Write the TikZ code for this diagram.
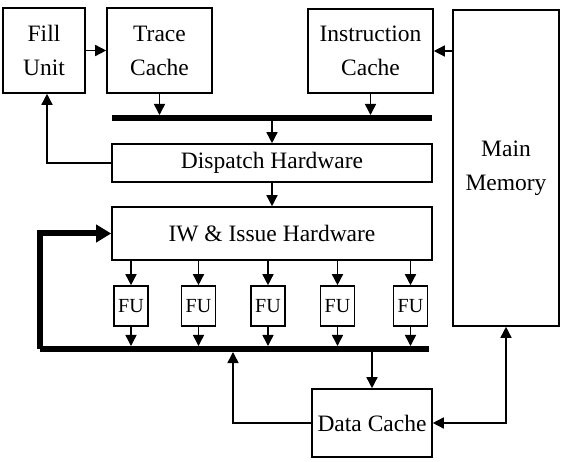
\documentclass[tikz,border=0pt]{standalone}
\usepackage{fontspec}
\setmainfont{Liberation Serif}
\usetikzlibrary{arrows.meta}

\tikzset{
	blk/.style={draw, line width=1.6pt, align=center, inner sep=0pt,
		font=\fontsize{23.5}{34}\selectfont},
	fubox/.style={draw, line width=1.6pt, inner sep=0pt, minimum width=34pt,
		minimum height=40pt, font=\fontsize{20}{20}\selectfont},
	bus/.style={line width=6pt},
	arr/.style={line width=1.5pt, -{Triangle[length=11pt,width=11pt]}},
	dblarr/.style={line width=1.5pt, {Triangle[length=11pt,width=11pt]}-{Triangle[length=11pt,width=11pt]}},
}

\begin{document}
\begin{tikzpicture}[x=1pt,y=-1pt]
	\useasboundingbox (0,0) rectangle (565,462);

	\node[blk, minimum width=82pt, minimum height=85pt] (fill) at (44,50.5) {Fill\\Unit};
	\node[blk, minimum width=105pt, minimum height=85pt] (trace) at (159.5,50.5) {Trace\\Cache};
	\node[blk, minimum width=125pt, minimum height=84pt] (icache) at (370.5,51) {Instruction\\Cache};
	\node[blk, minimum width=106pt, minimum height=316pt] (mem) at (506,168) {Main\\Memory};
	\node[blk, minimum width=320pt, minimum height=38pt] (disp) at (272,163) {Dispatch Hardware};
	\node[blk, minimum width=320pt, minimum height=53pt] (iw) at (272,233.5) {IW \& Issue Hardware};
	\node[blk, minimum width=120pt, minimum height=68pt] (dcache) at (372,423) {Data Cache};

	\coordinate (tbL) at (112,118); % top bus
	\coordinate (tbR) at (432,118);
	\coordinate (bbL) at (40,349); % result bus
	\coordinate (bbR) at (429,349);

	\draw[bus] (tbL)--(tbR);
	\draw[bus] (bbR)--(bbL);
	\draw[bus, -{Triangle[length=15pt,width=17pt]}] (bbL) |- (iw.west);

	\draw[arr] (fill)--(trace);
	\draw[arr] (mem.west |- icache.east)--(icache.east);
	\draw[arr, shorten >=3pt] (trace.south)--(trace |- tbL);
	\draw[arr, shorten >=3pt] (icache.south)--(icache |- tbL);
	\draw[arr, shorten <=3pt] (disp |- tbL)--(disp.north);
	\draw[arr] (disp.west) -| ([xshift=3pt]fill.south);
	\draw[arr] (disp.south)--(iw.north);

	\foreach \i/\x in {1/131,2/198.5,3/268,4/337.5,5/410.5} {
		\node[fubox] (fu\i) at (\x,306) {FU};
		\draw[arr] (iw.south -| fu\i)--(fu\i.north);
		\draw[arr, shorten >=3pt] (fu\i.south)--(fu\i |- bbL);
	}

	\coordinate (ret) at (233,349);
	\draw[arr, shorten <=3pt] (dcache.north |- bbL)--(dcache.north);
	\draw[arr, shorten >=3pt] (dcache.west) -| (ret);
	\draw[dblarr] (dcache.east) -| (mem.south);
\end{tikzpicture}
\end{document}
